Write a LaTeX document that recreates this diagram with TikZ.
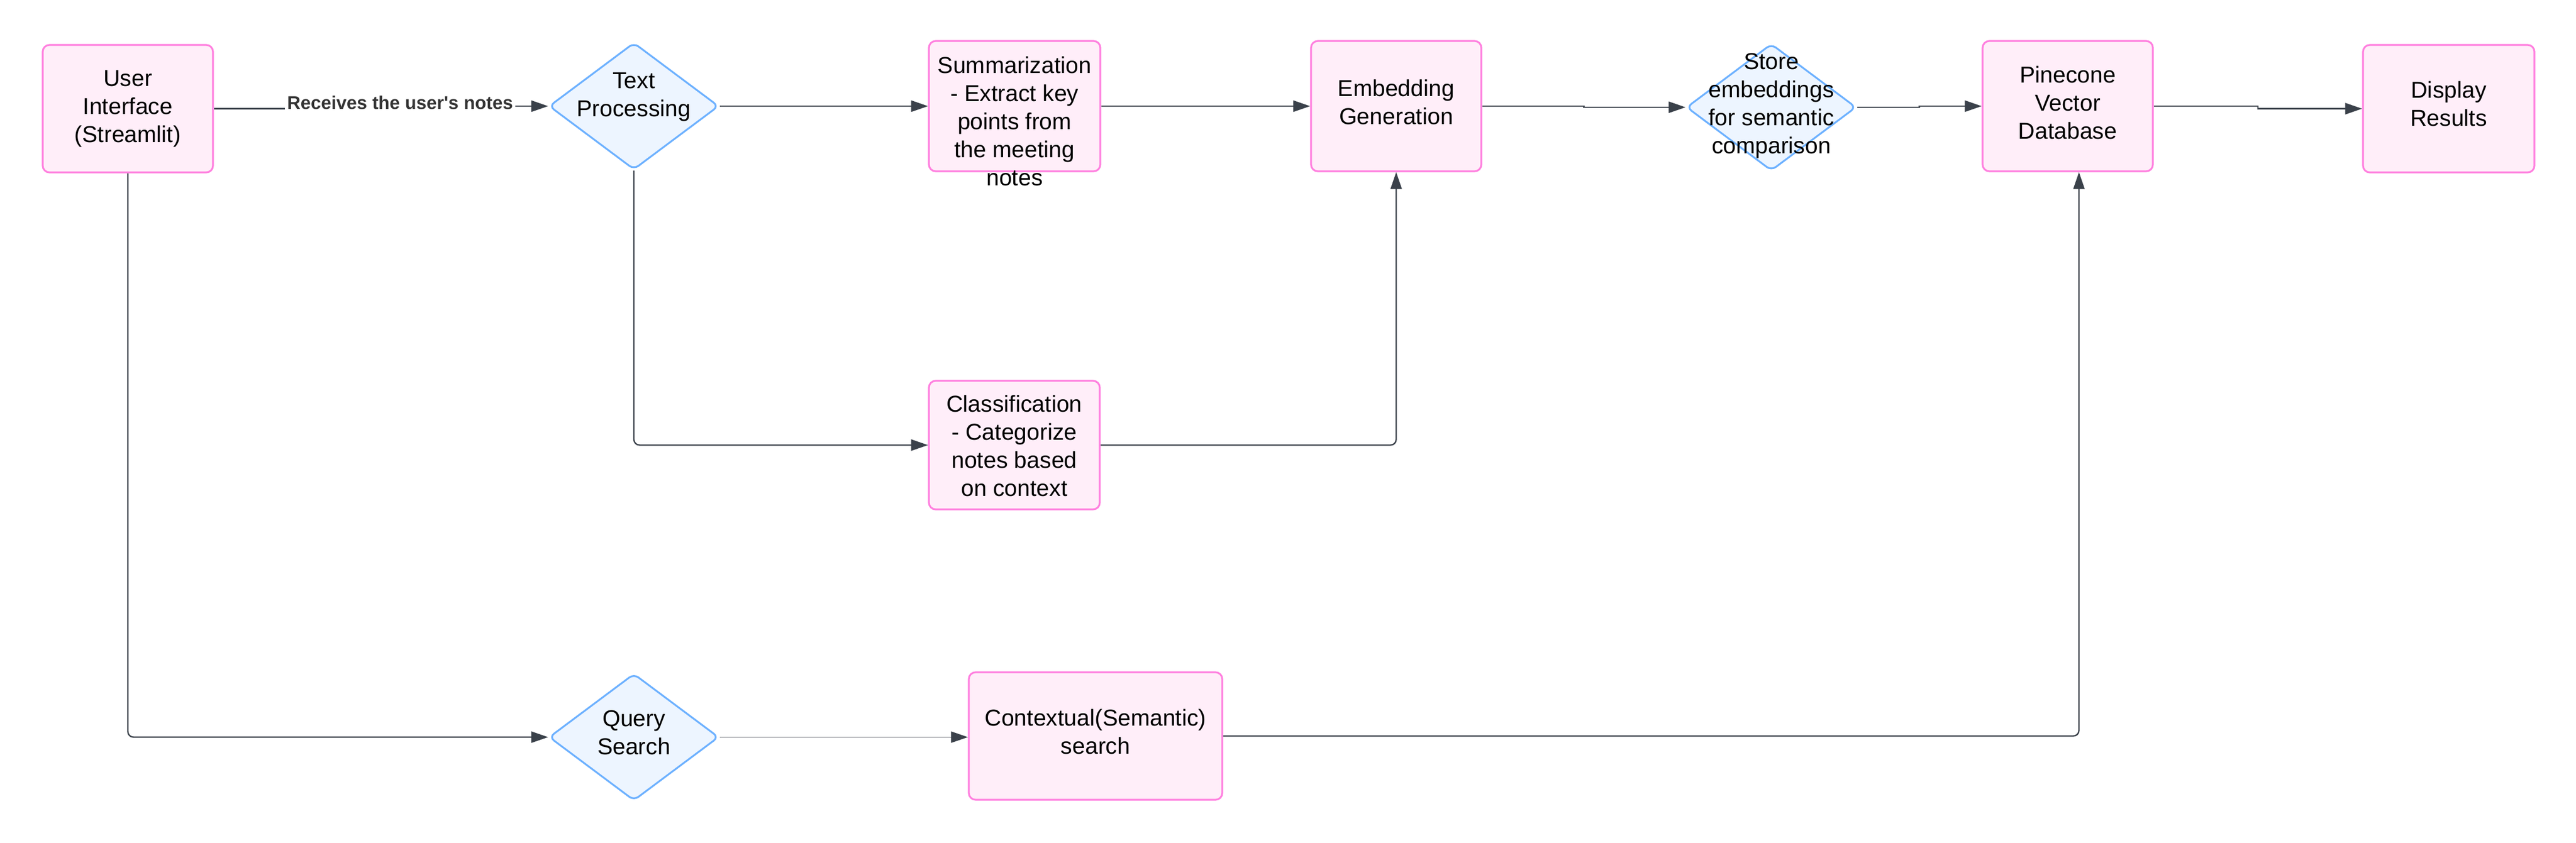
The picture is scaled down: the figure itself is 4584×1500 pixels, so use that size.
\documentclass[tikz,border=0pt]{standalone}
\usepackage{fontspec}
\setmainfont{Liberation Sans}
\usetikzlibrary{arrows.meta,shapes.geometric,calc}
\definecolor{boxfill}{HTML}{FFEEF9}
\definecolor{boxline}{HTML}{FF80DF}
\definecolor{diafill}{HTML}{EDF5FF}
\definecolor{dialine}{HTML}{6DB1FF}
\definecolor{conncol}{HTML}{3A414A}
\definecolor{lblcol}{HTML}{333333}
\newcommand\nodetext[2][0pt]{\smash{\makebox[0pt]{\raisebox{\dimexpr #1-3.4pt\relax}{\begin{tabular}{@{}c@{}}#2\end{tabular}}}}}
\begin{document}
\begin{tikzpicture}[x=0.25pt,y=-0.25pt,
  box/.style={rectangle,draw=boxline,fill=boxfill,line width=0.8pt,rounded corners=3pt,inner sep=0pt,
    font=\fontsize{10.25pt}{12.5pt}\selectfont,text=black},
  dia/.style={diamond,draw=dialine,fill=diafill,line width=0.8pt,rounded corners=2.5pt,inner sep=0pt,
    minimum width=75.5pt,minimum height=56.5pt,font=\fontsize{10.25pt}{12.5pt}\selectfont,text=black},
  conn/.style={draw=conncol,line width=0.6pt,-{Triangle[length=7.5pt,width=5pt]},rounded corners=2.5pt},
  jog/.style={conn,sharp corners},
  lbl/.style={fill=white,inner sep=1pt,font=\fontsize{8.2pt}{10pt}\selectfont\bfseries,text=lblcol}]
\useasboundingbox (0,0) rectangle (4584,1500);
% nodes
\node[box,minimum width=75.75pt,minimum height=56.75pt] (ui) at (227.5,193.5) {\nodetext[1pt]{User\\Interface\\(Streamlit)}};
\node[dia] (tp) at (1128,189) {\nodetext[5pt]{Text\\Processing}};
\node[box,minimum width=76.25pt,minimum height=58pt] (summ) at (1805.5,189) {\nodetext[-6.9pt]{Summarization\\- Extract key\\points from\\the meeting\\notes}};
\node[box,minimum width=75.75pt,minimum height=58pt] (emb) at (2484.5,189) {\nodetext[1.6pt]{Embedding\\Generation}};
\node[dia] (store) at (3152,191) {\nodetext[1.6pt]{Store\\embeddings\\for semantic\\comparison}};
\node[box,minimum width=75.75pt,minimum height=58pt] (pine) at (3679.5,189) {\nodetext[1.4pt]{Pinecone\\Vector\\Database}};
\node[box,minimum width=76.25pt,minimum height=56.75pt] (disp) at (4357.5,193.5) {\nodetext[1.9pt]{Display\\Results}};
\node[box,minimum width=76pt,minimum height=57.25pt] (cls) at (1805,792.5) {\nodetext[-0.6pt]{Classification\\- Categorize\\notes based\\on context}};
\node[dia] (query) at (1128,1312.5) {\nodetext[2pt]{Query\\Search}};
\node[box,minimum width=112.75pt,minimum height=56.75pt] (ctx) at (1949.5,1310.5) {\nodetext[1.6pt]{Contextual(Semantic)\\search}};
% connectors
\coordinate (lblpt) at (712,191);
\draw[jog] (ui.east) -| (lblpt) |- (tp.west);
\node[lbl,anchor=base] (lbl) at (712,194) {Receives the user\textquotesingle s notes};
\draw[conn] (tp.east) -- (summ.west);
\draw[conn] (summ.east) -- (emb.west);
\draw[jog] (emb.east) -| ($(emb.east)!0.5!(store.west)$) |- (store.west);
\draw[jog] (store.east) -| ($(store.east)!0.5!(pine.west)$) |- (pine.west);
\draw[jog] (pine.east) -| ($(pine.east)!0.5!(disp.west)$) |- (disp.west);
\draw[conn] (tp.south) |- (cls.west);
\draw[conn] (cls.east) -| (emb.south);
\draw[conn] (ui.south) |- (query.west);
\draw[conn,line width=0.45pt] (query.east) -- (query.east -| ctx.west);
\draw[conn] (ctx.east) -| ([xshift=5pt]pine.south);
\end{tikzpicture}
\end{document}
